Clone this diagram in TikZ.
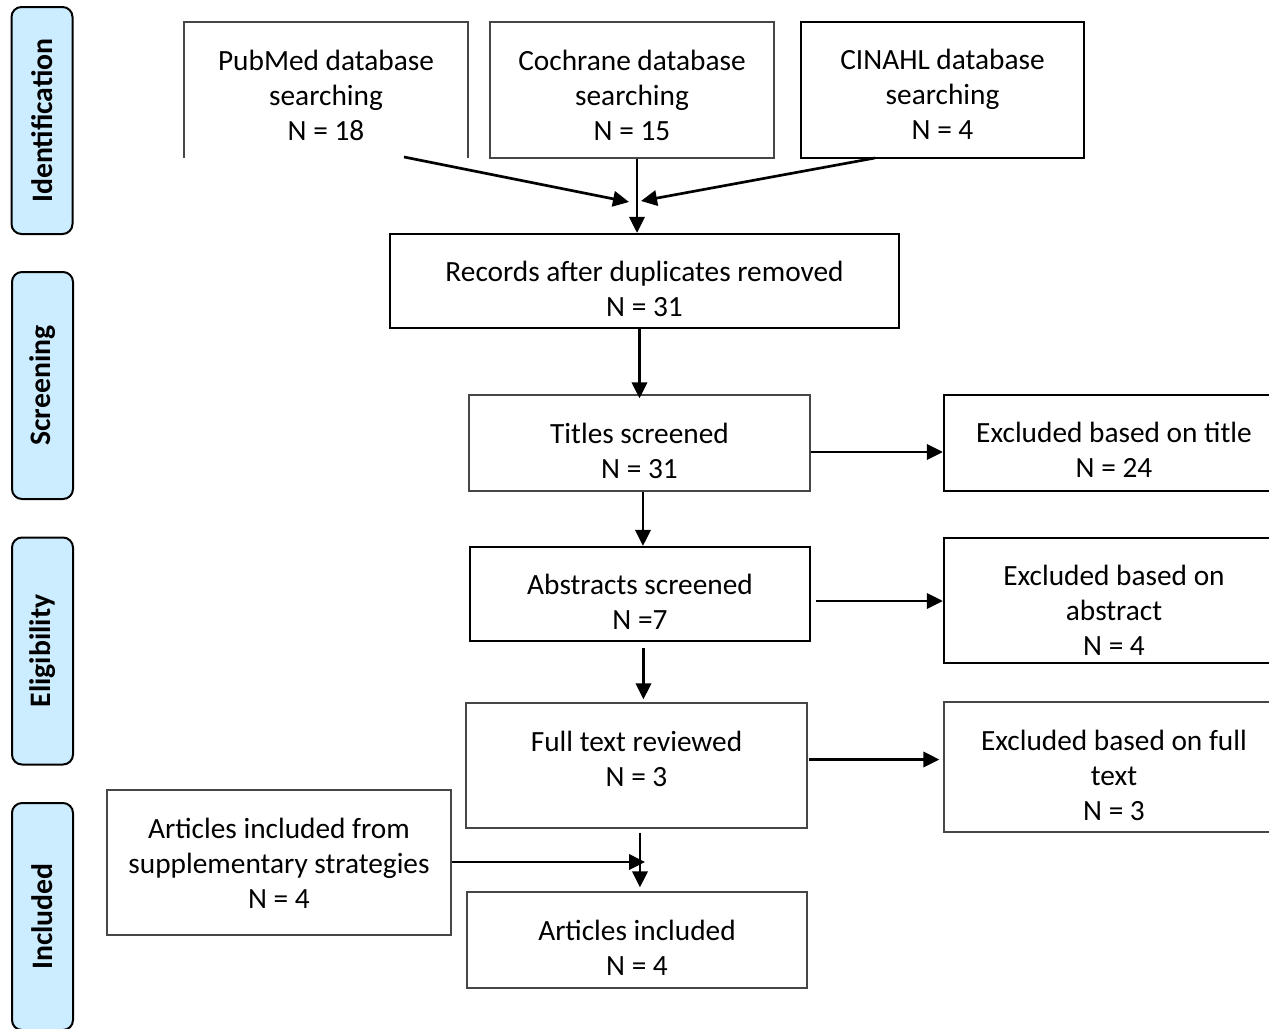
\documentclass[tikz,border=0pt]{standalone}
\usepackage{fontspec}
\setmainfont{Carlito}
\usetikzlibrary{arrows.meta}

\definecolor{stagefill}{RGB}{204,236,255}
\definecolor{boxgrey}{RGB}{70,70,70}

\tikzset{every picture/.style={line width=0.75pt}}
\tikzset{
  stage/.style={draw, line width=1.5pt, fill=stagefill, rounded corners=7.5pt, rotate=90,
    minimum width=170.25pt, minimum height=45.75pt, inner sep=0pt,
    font=\bfseries\fontsize{22.3}{26}\selectfont},
  box/.style={draw=boxgrey, line width=1pt, inner sep=0pt},
  boldbox/.style={draw, line width=1.7pt, inner sep=0pt},
  boxtext/.style={anchor=north, align=center, inner sep=0pt, font=\fontsize{22}{26.25}\selectfont},
  flow/.style={line width=2pt, -{Triangle[length=12pt,width=11.5pt]}},
}

\begin{document}
\begin{tikzpicture}[x=0.75pt,y=0.75pt,yscale=-1,xscale=1]
\useasboundingbox (0,0) rectangle (1269,1028);
\clip (0,0) rectangle (1269,1028);

%Stages
\node [stage] (identification) at (42,120.5) {Identification};
\node [stage] (screening) at (42.5,385.5) {Screening};
\node [stage] (eligibility) at (42.5,651) {Eligibility};
\node [stage] (included) at (42.5,916.5) {Included};

%Shape: Open Rectangle
\draw [boxgrey, line width=1pt] (184,158) -- (184,22) -- (468,22) -- (468,158) ;
%Shape: Rectangles
\node [box, minimum width=213pt, minimum height=102pt] (cochrane) at (632,90) {};
\node [boldbox, minimum width=212.25pt, minimum height=102pt] (cinahl) at (942.5,90) {};
\node [boldbox, minimum width=381.75pt, minimum height=70.5pt] (records) at (644.5,281) {};
\node [box, minimum width=255.75pt, minimum height=72pt] (titles) at (639.5,443) {};
\node [boldbox, minimum width=255pt, minimum height=72pt] (excltitle) at (1114,443) {};
\node [boldbox, minimum width=255pt, minimum height=70.5pt] (abstracts) at (640,594) {};
\node [boldbox, minimum width=255pt, minimum height=93.75pt] (exclabstract) at (1114,600.5) {};
\node [box, minimum width=255.75pt, minimum height=93.75pt] (fulltext) at (636.5,765.5) {};
\node [box, minimum width=255pt, minimum height=97.5pt] (exclfull) at (1114,767) {};
\node [box, minimum width=258pt, minimum height=108.75pt] (supplementary) at (279,862.5) {};
\node [box, minimum width=255pt, minimum height=72pt] (articles) at (637,940) {};

% Text Node
\node [boxtext] (pubmed) at (326,50) {PubMed database\\searching\\N = 18};
% Text Node
\node [boxtext] (cochrane text) at ([yshift=21pt]cochrane.north) {Cochrane database\\searching\\N = 15};
% Text Node
\node [boxtext] (cinahl text) at ([yshift=21pt]cinahl.north) {CINAHL database\\searching\\N = 4};
% Text Node
\node [boxtext] (records text) at ([yshift=21pt]records.north) {Records after duplicates removed\\N = 31};
% Text Node
\node [boxtext] (titles text) at ([yshift=21pt]titles.north) {Titles screened\\N = 31};
% Text Node
\node [boxtext] (excltitle text) at ([yshift=21pt]excltitle.north) {Excluded based on title\\N = 24};
% Text Node
\node [boxtext] (abstracts text) at ([yshift=21pt]abstracts.north) {Abstracts screened\\N =7};
% Text Node
\node [boxtext] (exclabstract text) at ([yshift=21pt]exclabstract.north) {Excluded based on\\abstract\\N = 4};
% Text Node
\node [boxtext] (fulltext text) at ([yshift=21pt]fulltext.north) {Full text reviewed\\N = 3};
% Text Node
\node [boxtext] (exclfull text) at ([yshift=21pt]exclfull.north) {Excluded based on full\\text\\N = 3};
% Text Node
\node [boxtext] (supplementary text) at ([yshift=21pt]supplementary.north) {Articles included from\\supplementary strategies\\N = 4};
% Text Node
\node [boxtext] (articles text) at ([yshift=21pt]articles.north) {Articles included\\N = 4};

%Straight Lines
\coordinate (pubmed out) at (404,157);
\coordinate (cinahl out) at (875,158);
\coordinate (merge left) at (629,202);
\coordinate (merge right) at (641,201);
\coordinate (join) at (645,862);
\draw [flow] (pubmed out) -- (merge left) ;
\draw [flow] (cinahl out) -- (merge right) ;
\draw [flow] ([xshift=3.75pt]cochrane.south) -- ([xshift=3.75pt]cochrane.south |- records.north) ;
\draw [flow] (records.south -| titles.north) -- ([yshift=3pt]titles.north) ;
\draw [flow] ([yshift=6.75pt]titles.east) -- ([yshift=6.75pt]titles.east -| excltitle.west) ;
\draw [flow] ([xshift=2.6pt]titles.south) -- ([xshift=2.6pt]titles.south |- abstracts.north) ;
\draw [flow] ([xshift=3.75pt,yshift=5.25pt]abstracts.east) -- ([yshift=5.25pt]abstracts.east -| exclabstract.west) ;
\draw [flow] ([xshift=2.6pt,yshift=4.5pt]abstracts.south) -- ([xshift=2.6pt,yshift=-2.25pt]abstracts.south |- fulltext.north) ;
\draw [flow] ([xshift=0.75pt,yshift=-4.5pt]fulltext.east) -- ([xshift=-3pt,yshift=-4.5pt]fulltext.east -| exclfull.west) ;
\draw [flow] ([xshift=2.6pt,yshift=3pt]fulltext.south) -- ([xshift=2.6pt,yshift=-3pt]fulltext.south |- articles.north) ;
\draw [flow] (supplementary.east |- join) -- (join) ;

\end{tikzpicture}
\end{document}
